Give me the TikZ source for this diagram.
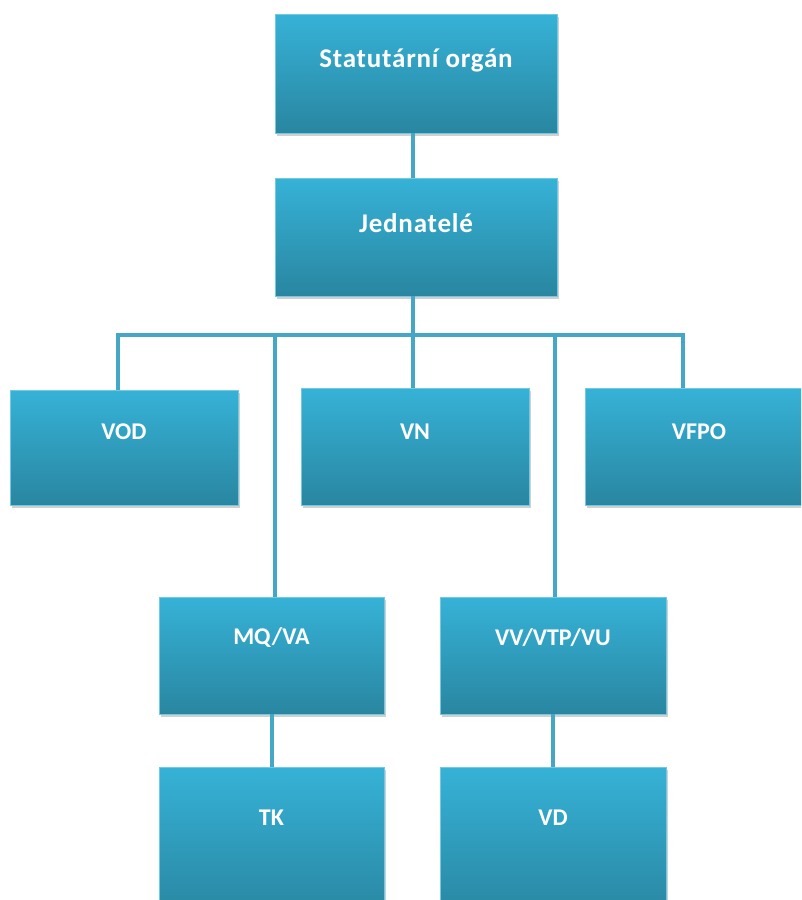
\documentclass[tikz,border=0pt]{standalone}
\usepackage{fontspec}
\setmainfont{Carlito}
\newfontfamily\widefont[LetterSpace=3]{Carlito}
\usetikzlibrary{shadows}
\definecolor{boxtop}{HTML}{36B2D7}
\definecolor{boxbot}{HTML}{2986A1}
\definecolor{linec}{HTML}{45A7C5}
\tikzset{
  box/.style={rectangle, minimum width=#1, inner sep=0pt, top color=boxtop, bottom color=boxbot,
    draw=boxtop!70!white, line width=0.4pt,
    drop shadow={shadow xshift=2pt, shadow yshift=-3pt, opacity=0.3, fill=black!60}},
  box/.default=228pt,
  lbl/.style={text=white, font=\bfseries\fontsize{24}{28}\selectfont, anchor=center},
  biglbl/.style={text=white, font=\widefont\bfseries\fontsize{27}{31}\selectfont, anchor=center},
  conn/.style={draw=linec, line width=4pt}
}
\begin{document}
\begin{tikzpicture}[x=1pt,y=-1pt]
\clip (0,0) rectangle (801,900);
\fill[white] (0,0) rectangle (801,900);
% bus coordinates
\coordinate (bL) at (118,335);
\coordinate (bR) at (683,335);
\coordinate (bM) at (413,335);
% boxes
\node[box=282pt, minimum height=119pt] (so) at (416,73.5) {};
\node[box=282pt, minimum height=118pt] (jd) at (416,237) {};
\node[box, minimum height=115pt] (vod) at (124,447.5) {};
\node[box, minimum height=117pt] (vn) at (415,446.5) {};
\node[box, minimum height=117pt] (vfpo) at (699,446.5) {};
\node[box=225pt, minimum height=117pt] (mq) at (271.5,655.5) {};
\node[box=226pt, minimum height=117pt] (vv) at (553,655.5) {};
\node[box=225pt, minimum height=150pt] (tk) at (271.5,842) {};
\node[box=226pt, minimum height=150pt] (vd) at (553,842) {};
% connectors
\draw[conn] (so.south -| bM) -- (jd.north -| bM);
\draw[conn] (jd.south -| bM) -- (bM);
\draw[conn, line join=miter] (bL |- vod.north) -- (bL) -- (bR) -- (bR |- vfpo.north);
\draw[conn] (bM) -- (bM |- vn.north);
\draw[conn] (bM -| 275,0) -- (mq.north -| 275,0);
\draw[conn] (bM -| 555,0) -- (vv.north -| 555,0);
\draw[conn] (mq.south) -- (tk.north);
\draw[conn] (vv.south) -- (vd.north);
% labels
\node[biglbl] (soT) at ([yshift=-47pt]so.north) {Statutární orgán};
\node[biglbl] (jdT) at ([yshift=-45pt]jd.north) {Jednatelé};
\node[lbl] (vodT) at ([yshift=-42pt]vod.north) {VOD};
\node[lbl] (vnT) at ([yshift=-44pt]vn.north) {VN};
\node[lbl] (vfpoT) at ([yshift=-44pt]vfpo.north) {VFPO};
\node[lbl] (mqT) at ([yshift=-41pt]mq.north) {MQ/VA};
\node[lbl] (vvT) at ([yshift=-41pt]vv.north) {VV/VTP/VU};
\node[lbl] (tkT) at ([yshift=-51pt]tk.north) {TK};
\node[lbl] (vdT) at ([yshift=-51pt]vd.north) {VD};
\end{tikzpicture}
\end{document}
